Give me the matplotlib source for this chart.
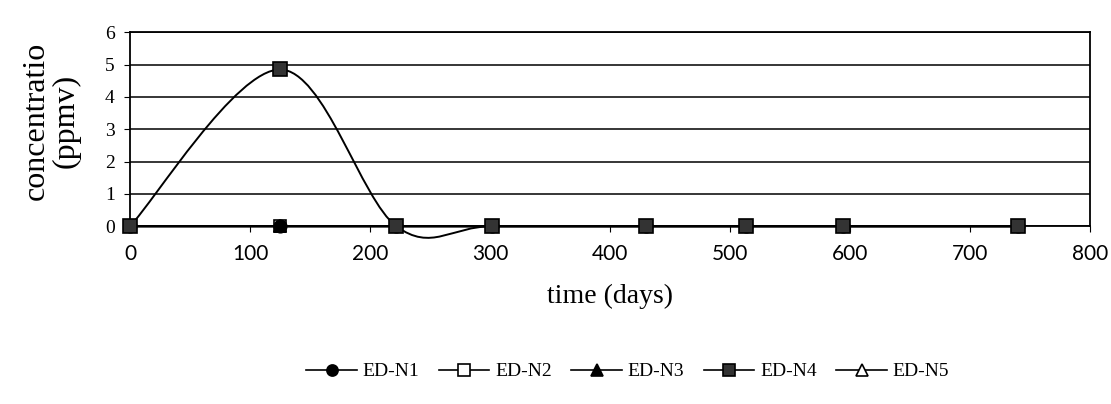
import matplotlib
matplotlib.use("Agg")
import matplotlib.pyplot as plt
from matplotlib.path import Path
from matplotlib.patches import PathPatch
import numpy as np

# ---- data ----
days = [0, 125, 222, 302, 430, 513, 594, 740]
ed_n1 = [0, 0, 0, 0, 0, 0, 0, 0]
ed_n2 = [0, 0, 0, 0, 0, 0, 0, 0]
ed_n3 = [0, 0, 0, 0, 0, 0, 0, 0]
ed_n4 = [0, 4.85, 0, 0, 0, 0, 0, 0]
ed_n5 = [0, 0, 0, 0, 0, 0, 0, 0]
series_names = ["ED-N1", "ED-N2", "ED-N3", "ED-N4", "ED-N5"]
x_ticks = [0, 100, 200, 300, 400, 500, 600, 700, 800]
y_ticks = [0, 1, 2, 3, 4, 5, 6]

SERIF = "Liberation Serif"

def smooth_path(xs, ys):
    """Excel-like smoothed line via Catmull-Rom -> cubic Bezier segments."""
    pts = np.column_stack([xs, ys]).astype(float)
    n = len(pts)
    verts = [pts[0]]
    codes = [Path.MOVETO]
    for i in range(n - 1):
        p0 = pts[i - 1] if i > 0 else pts[i]
        p1 = pts[i]
        p2 = pts[i + 1]
        p3 = pts[i + 2] if i + 2 < n else pts[i + 1]
        c1 = p1 + (p2 - p0) / 6.0
        c2 = p2 - (p3 - p1) / 6.0
        verts += [c1, c2, p2]
        codes += [Path.CURVE4] * 3
    return Path(verts, codes)

fig = plt.figure(figsize=(11.11, 4.04), dpi=100)
ax = fig.add_axes([0.117, 0.44, 0.864, 0.48])

styles = [
    dict(marker="o", mfc="black", mec="black", ms=9, z=6),
    dict(marker="s", mfc="white", mec="black", ms=9, z=3),
    dict(marker="^", mfc="black", mec="black", ms=9, z=4),
    dict(marker="s", mfc="#333333", mec="black", ms=10, z=7),
    dict(marker="^", mfc="white", mec="black", ms=9, z=2),
]
all_series = [ed_n1, ed_n2, ed_n3, ed_n4, ed_n5]
for name, vals, st in zip(series_names, all_series, styles):
    patch = PathPatch(smooth_path(days, vals), fill=False, edgecolor="black",
                      lw=1.4, zorder=st["z"], clip_on=False)
    ax.add_patch(patch)
    ax.plot(days, vals, linestyle="none", marker=st["marker"],
            mfc=st["mfc"], mec=st["mec"], ms=st["ms"], mew=1.2,
            zorder=st["z"] + 0.5, clip_on=False)
    ax.plot([], [], color="black", lw=1.2, marker=st["marker"],
            mfc=st["mfc"], mec=st["mec"], ms=8, mew=1.2, label=name)

ax.set_xlim(0, 800)
ax.set_ylim(0, 6)
ax.set_xticks(x_ticks)
ax.set_yticks(y_ticks)
ax.yaxis.grid(True, color="black", lw=1.1)
ax.set_axisbelow(True)
for s in ax.spines.values():
    s.set_color("black")
    s.set_linewidth(1.3)
ax.tick_params(axis="x", direction="out", length=4, pad=9, labelsize=15)
ax.tick_params(axis="y", direction="out", length=4, pad=7, labelsize=14)
for lab in ax.get_xticklabels():
    lab.set_fontfamily("Lato")
for lab in ax.get_yticklabels():
    lab.set_fontfamily(SERIF)

ax.set_xlabel("time (days)", fontsize=20, family=SERIF, labelpad=14)
fig.text(0.046, 0.70, "concentratio\n(ppmv)", rotation=90, ha="center",
         va="center", fontsize=23, family=SERIF, linespacing=1.0)

fig.legend(loc="center", bbox_to_anchor=(0.565, 0.08), ncol=5,
           frameon=False, prop={"family": SERIF, "size": 14},
           handlelength=2.6, columnspacing=1.0, handletextpad=0.3)

fig.savefig("out.png", dpi=100)
